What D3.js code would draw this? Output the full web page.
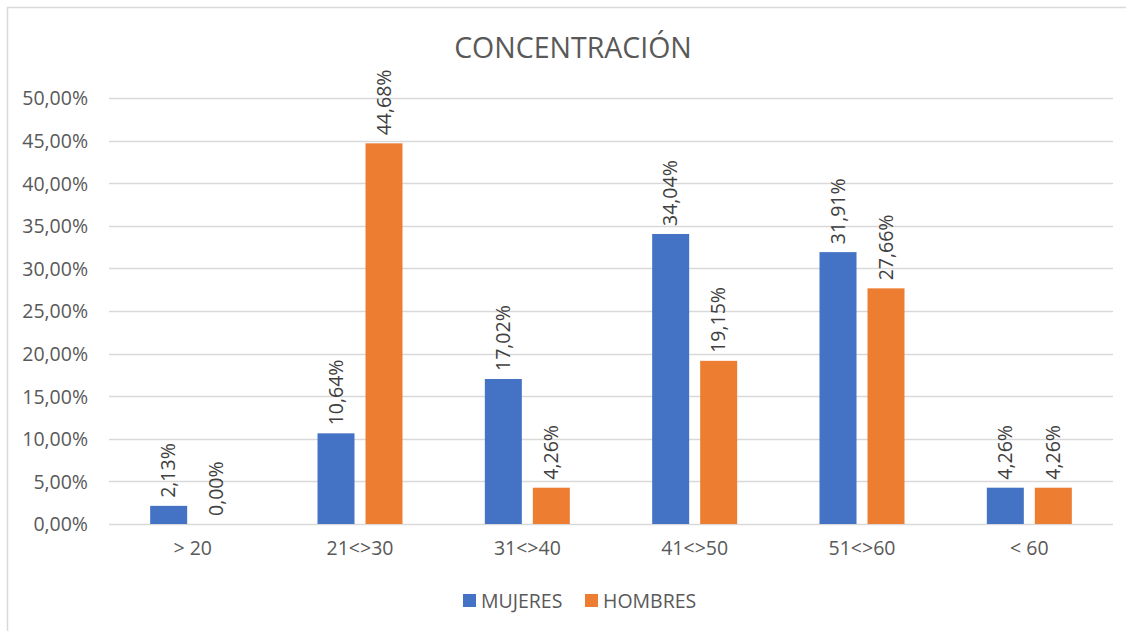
<!DOCTYPE html>
<html>
<head>
<meta charset="utf-8">
<script src="https://cdn.jsdelivr.net/npm/d3@7"></script>
<style>
  html, body { margin: 0; padding: 0; background: #fff; }
  svg { display: block; }
  text { font-family: "Open Sans", "Liberation Sans", sans-serif; }
</style>
</head>
<body>
<svg id="chart" width="1126" height="631"></svg>
<script>
// Age groups and the share of each group per sex
const categories = ["> 20", "21<>30", "31<>40", "41<>50", "51<>60", "< 60"];
const seriesNames = ["MUJERES", "HOMBRES"];
const mujeres = [2.13, 10.64, 17.02, 34.04, 31.91, 4.26];
const hombres = [0.00, 44.68, 4.26, 19.15, 27.66, 4.26];
const yTicks = [0, 5, 10, 15, 20, 25, 30, 35, 40, 45, 50];
const colors = { MUJERES: "#4472C4", HOMBRES: "#ED7D31" };

const svg = d3.select("#chart");
const W = 1126, H = 631;
const plot = { left: 109, right: 1113, top: 98, bottom: 524 };
const fs = 19.5;

// chart frame
svg.append("rect")
  .attr("x", 7.5).attr("y", 7.5)
  .attr("width", W + 20).attr("height", H + 20)
  .attr("fill", "#fff").attr("stroke", "#d9d9d9").attr("stroke-width", 1.5);

const fmt = v => v.toFixed(2).replace(".", ",") + "%";

const y = d3.scaleLinear().domain([0, 50]).range([plot.bottom, plot.top]);
const x0 = d3.scaleBand().domain(categories).range([plot.left, plot.right]);
const groupW = 85;
const x1 = d3.scaleBand().domain(seriesNames).range([0, groupW]).paddingInner(0.229);

// horizontal gridlines
svg.append("g").selectAll("line").data(yTicks).join("line")
  .attr("x1", plot.left).attr("x2", plot.right)
  .attr("y1", d => Math.round(y(d)) + 0.5).attr("y2", d => Math.round(y(d)) + 0.5)
  .attr("stroke", "#d9d9d9").attr("stroke-width", 1.3);

// y axis labels
const yAxis = d3.axisLeft(y).tickValues(yTicks).tickSize(0).tickPadding(0).tickFormat(fmt);
const gy = svg.append("g").attr("transform", `translate(88,0)`).call(yAxis);
gy.select(".domain").remove();
gy.selectAll("text").attr("fill", "#595959").attr("font-size", fs).attr("dy", "0.35em");

// x axis labels
const xAxis = d3.axisBottom(x0).tickSize(0).tickPadding(0);
const gx = svg.append("g").attr("transform", `translate(0,${plot.bottom})`).call(xAxis);
gx.select(".domain").remove();
gx.selectAll("text").attr("fill", "#595959").attr("font-size", fs).attr("y", 24).attr("dy", "0.35em");

// bars
const rows = categories.map((c, i) => ({ cat: c, values: [
  { name: "MUJERES", value: mujeres[i] },
  { name: "HOMBRES", value: hombres[i] }
]}));

const groups = svg.append("g").selectAll("g").data(rows).join("g")
  .attr("transform", d => `translate(${x0(d.cat) + x0.bandwidth() / 2 - groupW / 2},0)`);

groups.selectAll("rect").data(d => d.values).join("rect")
  .attr("x", d => x1(d.name))
  .attr("width", x1.bandwidth())
  .attr("y", d => y(d.value))
  .attr("height", d => y(0) - y(d.value))
  .attr("fill", d => colors[d.name]);

// rotated value labels
groups.selectAll("text").data(d => d.values).join("text")
  .attr("transform", d => `translate(${x1(d.name) + x1.bandwidth() / 2},${y(d.value) - 8}) rotate(-90)`)
  .attr("text-anchor", "start")
  .attr("dy", "0.35em")
  .attr("fill", "#404040")
  .attr("font-size", fs)
  .text(d => fmt(d.value));

// title
svg.append("text")
  .attr("x", 573).attr("y", 48).attr("dy", "0.35em")
  .attr("text-anchor", "middle")
  .attr("fill", "#595959").attr("font-size", 28.5)
  .text("CONCENTRACIÓN");

// legend
const legend = svg.append("g").attr("transform", "translate(463,601)");
const items = [{ name: "MUJERES", x: 0 }, { name: "HOMBRES", x: 122 }];
const li = legend.selectAll("g").data(items).join("g").attr("transform", d => `translate(${d.x},0)`);
li.append("rect").attr("x", 0).attr("y", -7).attr("width", 13).attr("height", 13).attr("fill", d => colors[d.name]);
li.append("text").attr("x", 18).attr("dy", "0.35em").attr("fill", "#595959").attr("font-size", fs).text(d => d.name);
</script>
</body>
</html>
